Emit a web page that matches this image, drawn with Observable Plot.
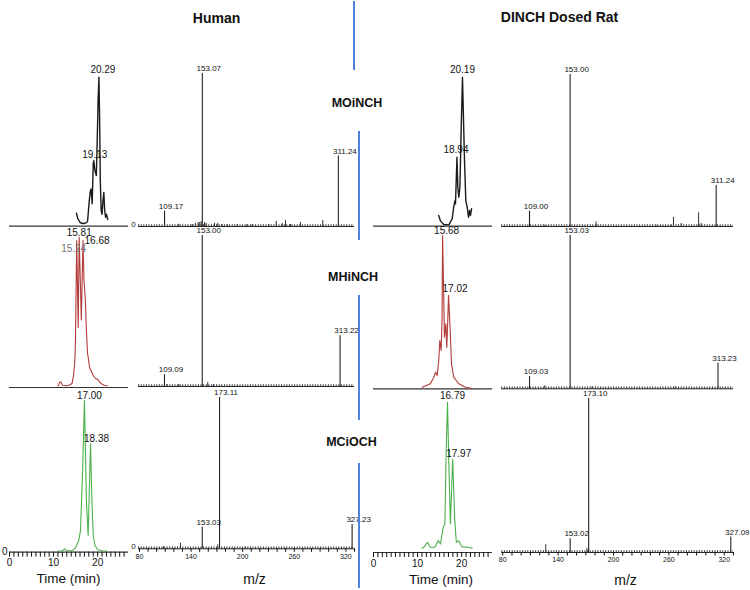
<!DOCTYPE html>
<html>
<head>
<meta charset="utf-8">
<script src="https://cdn.jsdelivr.net/npm/d3@7"></script>
<script src="https://cdn.jsdelivr.net/npm/@observablehq/plot@0.6"></script>
<style>
html, body { margin: 0; padding: 0; background: #fff; }
#fig { position: relative; width: 750px; height: 590px; overflow: hidden; font-family: "Liberation Sans", Arial, sans-serif; color: #111; }
.lbl { position: absolute; white-space: nowrap; transform: translate(-50%, -50%); line-height: 1; }
.vline { position: absolute; width: 2px; background: #4f82dc; }
</style>
</head>
<body>
<div id="fig"></div>
<script>
// ---------------- DATA ----------------
const columns = ["Human", "DINCH Dosed Rat"];
const compounds = ["MOiNCH", "MHiNCH", "MCiOCH"];
const chromTickLabels = [0, 10, 20];
const mzTickLabels = [80, 140, 200, 260, 320];
const xTitles = ["Time (min)", "m/z"];

// Chromatogram traces: [retention time (min), relative intensity %]
const humanMOiNCH_trace = [[15.2,8.7],[15.5,5],[16.0,2.5],[16.6,1.8],[17.2,2],[17.7,3],[18.1,17],[18.3,22.6],[18.5,25],[18.65,20],[18.75,15],[18.9,30],[19.0,42],[19.13,44],[19.3,39],[19.5,36],[19.7,34],[19.9,57],[20.1,84],[20.29,100],[20.45,71],[20.6,31],[20.8,10.5],[21.0,8],[21.2,17],[21.4,22.6],[21.6,10.5],[21.8,6],[22.0,8],[22.3,4.5]];
const humanMHiNCH_trace = [[11.0,1],[11.4,3.5],[11.7,3.7],[12.0,1.5],[13.0,1.2],[13.8,1.8],[14.2,2.8],[14.5,7.4],[14.8,16.5],[14.9,23.7],[15.0,38],[15.24,97.8],[15.59,40],[15.81,100],[16.3,45],[16.68,97.8],[16.9,71],[17.2,59],[17.45,38],[17.7,23],[18.2,13],[18.6,10.6],[19.0,8],[19.5,6],[20.0,5.4],[20.5,3.5],[21.0,2.2],[21.5,1.5],[22.2,1.2]];
const humanMCiOCH_trace = [[11.0,0.8],[12.0,1],[12.5,2.2],[12.9,1],[14.3,1],[15.0,3],[15.7,7.7],[16.1,14],[16.6,54],[17.0,100],[17.45,34],[17.85,11],[18.1,40],[18.38,71.4],[18.7,34],[19.0,11],[19.4,4.4],[20.0,1.8],[21.0,1],[22.0,0.8]];
const ratMOiNCH_trace = [[14.8,7.2],[15.2,3.4],[15.95,1.1],[17.1,0.9],[17.85,5],[18.2,12.8],[18.45,17],[18.6,15],[18.94,46.3],[19.13,26],[19.36,19.5],[19.6,26],[19.9,66],[20.19,100],[20.65,44],[20.95,17],[21.26,12.8],[21.55,6],[21.8,10.5],[22.0,7.2],[22.25,11.7]];
const ratMHiNCH_trace = [[11.05,1],[12.9,3.3],[13.7,7.6],[14.07,10.9],[14.45,8.7],[14.8,18.5],[15.05,31.5],[15.35,25],[15.55,44.5],[15.68,100],[16.1,33.7],[16.4,42.4],[16.63,27],[16.85,44.5],[17.02,61],[17.4,38],[17.7,16.3],[18.2,7.6],[19.35,3.3],[20.9,1],[22.4,0.2]];
const ratMCiOCH_trace = [[11.05,2.8],[11.6,4],[12.2,6.8],[12.9,3.5],[13.9,3.5],[14.7,7.9],[15.2,5.7],[15.8,16.6],[16.2,18.9],[16.5,69],[16.79,100],[17.1,58.8],[17.45,18.9],[17.97,62],[18.45,21],[18.8,6.8],[19.35,7.9],[20.0,3.9],[21.3,3.5],[22.4,2.8]];

// Labelled chromatogram peaks: [retention time, relative intensity %]
const humanMOiNCH_peaks = [[20.29,100],[19.13,44]];
const humanMHiNCH_peaks = [[15.81,100],[16.68,97.8],[15.24,97.8]];
const humanMCiOCH_peaks = [[17.00,100],[18.38,71.4]];
const ratMOiNCH_peaks = [[20.19,100],[18.94,46.3]];
const ratMHiNCH_peaks = [[15.68,100],[17.02,61]];
const ratMCiOCH_peaks = [[16.79,100],[17.97,62]];

// Mass spectra, labelled peaks: [m/z, relative abundance %]
const humanMOiNCH_ms = [[109.17,10],[153.07,100],[311.24,46]];
const humanMHiNCH_ms = [[109.09,7.8],[153.00,100],[313.22,33.6]];
const humanMCiOCH_ms = [[153.03,14.3],[173.11,100],[327.23,16]];
const ratMOiNCH_ms = [[109.00,10],[153.00,100],[311.24,27]];
const ratMHiNCH_ms = [[109.03,8],[153.03,100],[313.23,16.7]];
const ratMCiOCH_ms = [[153.02,8.9],[173.10,100],[327.09,10]];

// Mass spectra, minor unlabelled peaks: [m/z, relative abundance %]
const humanMOiNCH_msMinor = [[125.7,1.5],[141.3,1.3],[145.0,2],[148.2,2.6],[150.0,2.6],[151.7,3.3],[155.6,2.6],[157.5,2],[167.2,2],[171.0,2],[176.0,1.3],[182.0,1.3],[193.6,1.3],[205.0,1.3],[211.0,1.3],[230.4,1.3],[239.0,3.3],[246.0,2],[249.8,4],[255.6,1.3],[267.2,2.6],[293.1,4]];
const humanMHiNCH_msMinor = [[112.0,1.3],[125.7,1.3],[159.4,2.7],[166.0,1.3]];
const humanMCiOCH_msMinor = [[108.0,1.3],[127.7,3.7],[171.0,2.6],[203.0,1.3]];
const ratMOiNCH_msMinor = [[125.6,0.8],[181.2,3],[246.0,0.8],[262.6,1],[265.0,6],[273.4,2],[292.2,9],[295.0,2]];
const ratMHiNCH_msMinor = [[125.6,2],[176.8,1.3],[266.8,1.3]];
const ratMCiOCH_msMinor = [[126.6,5],[171.2,2.6]];

// ---------------- LAYOUT ----------------
const FONT = "'Liberation Sans', Arial, sans-serif";
const fig = document.getElementById("fig");
const chromDomain = [0, 27];
const mzDomain = [79, 330];
const traceColors = ["#1a1a1a", "#b23a3a", "#4cb04c"];

const geom = {
  human: {
    chromX: [9, 128], msX: [138.1, 354],
    chromRows: [[225.7, 76.7], [387, 236.7], [551.7, 400]],
    msRows: [[226, 73], [386, 235], [548.3, 397]]
  },
  rat: {
    chromX: [373, 492], msX: [501.3, 733],
    chromRows: [[225.7, 76.7], [388.3, 235], [552, 401.7]],
    msRows: [[226, 74], [388.3, 235], [552, 398]]
  }
};

const data = {
  human: {
    traces: [humanMOiNCH_trace, humanMHiNCH_trace, humanMCiOCH_trace],
    peaks: [humanMOiNCH_peaks, humanMHiNCH_peaks, humanMCiOCH_peaks],
    ms: [humanMOiNCH_ms, humanMHiNCH_ms, humanMCiOCH_ms],
    msMinor: [humanMOiNCH_msMinor, humanMHiNCH_msMinor, humanMCiOCH_msMinor]
  },
  rat: {
    traces: [ratMOiNCH_trace, ratMHiNCH_trace, ratMCiOCH_trace],
    peaks: [ratMOiNCH_peaks, ratMHiNCH_peaks, ratMCiOCH_peaks],
    ms: [ratMOiNCH_ms, ratMHiNCH_ms, ratMCiOCH_ms],
    msMinor: [ratMOiNCH_msMinor, ratMHiNCH_msMinor, ratMCiOCH_msMinor]
  }
};

// label offsets for chromatogram peak labels (dx, dy, anchor, colour)
const chromLabelPlacement = {
  "20.29": [4, -7], "19.13": [1, -6],
  "15.81": [0, -4], "16.68": [1.5, 0, "start"], "15.24": [-3, 8, "middle", "#777"],
  "17.00": [5, -5], "18.38": [6, -5],
  "20.19": [0, -7], "18.94": [-1, -7],
  "15.68": [4, -5], "17.02": [6.5, -6],
  "16.79": [5, -6], "17.97": [6, -6]
};

function panel({x, row, xDomain, marks, xAxis = false, yAxis = false}) {
  const [base, top] = row;
  const svg = Plot.plot({
    width: 750, height: 590,
    marginLeft: x[0], marginRight: 750 - x[1],
    marginTop: top, marginBottom: 590 - base,
    x: xAxis ? {domain: xDomain} : {domain: xDomain, axis: null},
    y: yAxis ? {domain: [0, 100]} : {domain: [0, 100], axis: null},
    style: {background: "transparent", overflow: "visible", fontFamily: FONT, fontSize: "10px", color: "#111"},
    marks
  });
  svg.style.position = "absolute";
  svg.style.left = "0px";
  svg.style.top = "0px";
  fig.appendChild(svg);
}

const gx = d => d[0], gy = d => d[1];

for (const side of ["human", "rat"]) {
  const g = geom[side], D = data[side];
  for (let r = 0; r < 3; r++) {
    const last = r === 2;
    // ---- chromatogram ----
    const chromMarks = [
      Plot.ruleY([0], {stroke: "#333", strokeWidth: 1.2}),
      Plot.line(D.traces[r], {x: gx, y: gy, stroke: traceColors[r], strokeWidth: r === 0 ? 1.4 : 1.1})
    ];
    for (const p of D.peaks[r]) {
      const key = p[0].toFixed(2);
      const [dx, dy, anchor = "middle", fill = "#111"] = chromLabelPlacement[key] || [4, -6];
      chromMarks.push(Plot.text([p], {x: gx, y: gy, text: d => d[0].toFixed(2), dx, dy, textAnchor: anchor, fill, fontSize: 10}));
    }
    if (last) {
      chromMarks.push(Plot.axisX({ticks: d3.range(0, 27, 1), tickSize: 5, tickPadding: 2, fontSize: 10, label: null,
        tickFormat: d => chromTickLabels.includes(d) ? String(d) : ""}));
      if (side === "human") chromMarks.push(Plot.axisY({ticks: [0], tickSize: 0, tickPadding: 2, fontSize: 10, label: null, tickFormat: d => String(d)}));
    }
    panel({x: g.chromX, row: g.chromRows[r], xDomain: chromDomain, marks: chromMarks, xAxis: last, yAxis: last && side === "human"});

    // ---- mass spectrum ----
    const msMarks = [
      Plot.ruleY([0], {stroke: "#222", strokeWidth: 1}),
      Plot.ruleY([0], {stroke: "#333", strokeWidth: 2.4, strokeDasharray: "1,1.6", dy: -1}),
      Plot.ruleX(D.msMinor[r], {x: gx, y1: 0, y2: gy, stroke: "#333", strokeWidth: 1}),
      Plot.ruleX(D.ms[r], {x: gx, y1: 0, y2: gy, stroke: "#222", strokeWidth: 1.1}),
      Plot.text(D.ms[r], {x: gx, y: gy, text: d => d[0].toFixed(2), dx: 6.5, dy: -5, fontSize: 8, fill: "#111"})
    ];
    const msZero = side === "human" && r !== 1;
    if (last) {
      msMarks.push(Plot.axisX({ticks: d3.range(80, 331, 10), tickSize: 3.5, tickPadding: 1.5, fontSize: 7, label: null,
        tickFormat: d => mzTickLabels.includes(d) ? String(d) : ""}));
    }
    if (msZero) msMarks.push(Plot.axisY({ticks: [0], tickSize: 0, tickPadding: 3, fontSize: 8, label: null, tickFormat: d => String(d), dy: -2}));
    panel({x: g.msX, row: g.msRows[r], xDomain: mzDomain, marks: msMarks, xAxis: last, yAxis: msZero});
  }
}

// ---------------- TEXT & DIVIDERS ----------------
function label(text, x, y, size, bold) {
  const el = document.createElement("div");
  el.className = "lbl";
  el.textContent = text;
  el.style.left = x + "px";
  el.style.top = y + "px";
  el.style.fontSize = size + "px";
  if (bold) el.style.fontWeight = "bold";
  fig.appendChild(el);
}
function vline(x, y1, y2) {
  const el = document.createElement("div");
  el.className = "vline";
  el.style.left = x + "px";
  el.style.top = y1 + "px";
  el.style.height = (y2 - y1) + "px";
  fig.appendChild(el);
}

label(columns[0], 216.5, 18, 14, true);
label(columns[1], 559.5, 17, 14, true);
label(compounds[0], 357, 103, 12.5, true);
label(compounds[1], 353, 277, 12.5, true);
label(compounds[2], 351.5, 442, 12.5, true);
label(xTitles[0], 68.5, 579, 13.5, false);
label(xTitles[1], 254.5, 579, 14, false);
label(xTitles[0], 441, 579.5, 13.5, false);
label(xTitles[1], 625.5, 580, 14, false);

vline(353, 1, 70);
vline(358, 131, 240);
vline(358, 295, 420);
vline(358, 463, 588);
</script>
</body>
</html>
